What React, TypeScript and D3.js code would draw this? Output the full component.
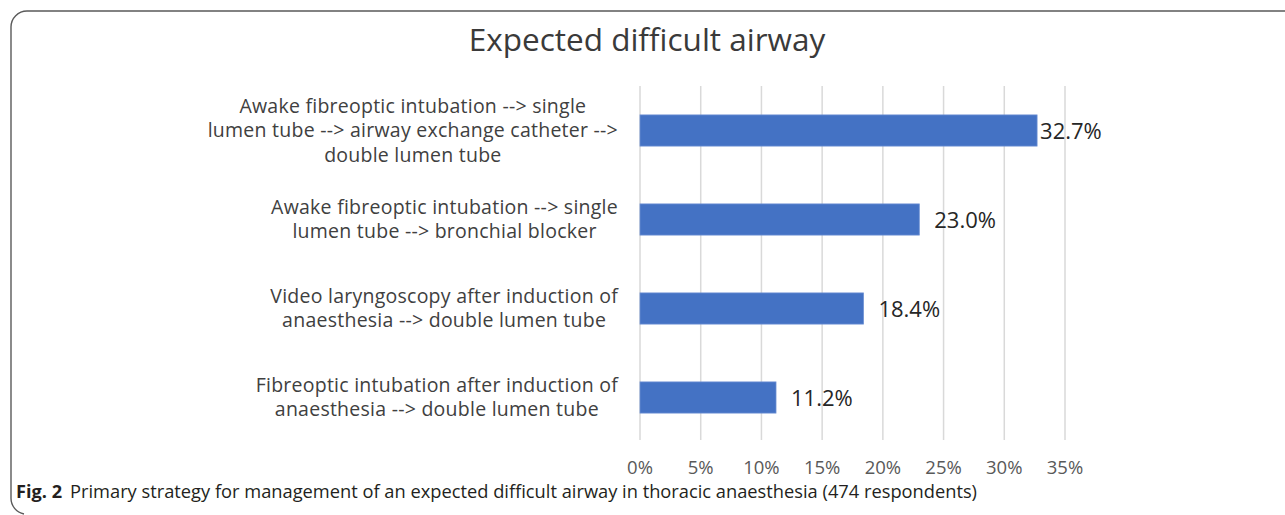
import React, { useEffect, useRef } from "react";
import * as d3 from "d3";

const categories: string[][] = [
  ["Awake fibreoptic intubation --> single", "lumen tube --> airway exchange catheter -->", "double lumen tube"],
  ["Awake fibreoptic intubation --> single", "lumen tube -->  bronchial blocker"],
  ["Video laryngoscopy after induction of", "anaesthesia --> double lumen tube"],
  ["Fibreoptic intubation after induction of", "anaesthesia --> double lumen tube"],
];
const values: number[] = [0.327, 0.23, 0.184, 0.112];
const valueLabels: string[] = ["32.7%", "23.0%", "18.4%", "11.2%"];
const ticks: number[] = [0, 0.05, 0.1, 0.15, 0.2, 0.25, 0.3, 0.35];
const title = "Expected difficult airway";
const captionBold = "Fig. 2";
const captionText = "Primary strategy for management of an expected difficult airway in thoracic anaesthesia (474 respondents)";

const W = 1285;
const H = 515;
const FONT = "'Open Sans', 'Noto Sans', sans-serif";

export default function App() {
  const ref = useRef<SVGSVGElement | null>(null);

  useEffect(() => {
    const svg = d3.select(ref.current);
    svg.selectAll("*").remove();

    // frame
    svg.append("path")
      .attr("d", `M ${W} 11 H 27 A 16 16 0 0 0 11 27 V 498 A 16 16 0 0 0 24 514`)
      .attr("fill", "none")
      .attr("stroke", "#5a5a5a")
      .attr("stroke-width", 1.4);

    const x = d3.scaleLinear().domain([0, 0.35]).range([640, 1065]);
    const y = d3.scaleBand<number>().domain(d3.range(categories.length)).range([86, 442]).paddingInner(0.65).paddingOuter(0.325);

    // title
    svg.append("text")
      .attr("x", 647).attr("y", 51)
      .attr("text-anchor", "middle")
      .attr("font-family", FONT)
      .attr("font-size", 31.5)
      .attr("fill", "#3a3a3a")
      .text(title);

    // gridlines
    svg.append("g").selectAll("line").data(ticks).join("line")
      .attr("x1", d => x(d)).attr("x2", d => x(d))
      .attr("y1", 86).attr("y2", 440)
      .attr("stroke", "#d9d9d9").attr("stroke-width", 1.5);

    // tick labels
    svg.append("g").selectAll("text").data(ticks).join("text")
      .attr("x", d => x(d)).attr("y", 474)
      .attr("text-anchor", "middle")
      .attr("font-family", FONT).attr("font-size", 18.5)
      .attr("fill", "#595959")
      .text(d => d3.format(".0%")(d));

    // bars
    svg.append("g").selectAll("rect").data(values).join("rect")
      .attr("x", x(0)).attr("y", (_, i) => y(i)!)
      .attr("width", d => x(d) - x(0)).attr("height", y.bandwidth())
      .attr("fill", "#4472C4").attr("stroke", "#6b8fd3").attr("stroke-width", 0.8);

    // value labels
    svg.append("g").selectAll("text").data(values).join("text")
      .attr("x", (d, i) => x(d) + (i === 0 ? 3 : 15))
      .attr("y", (_, i) => y(i)! + y.bandwidth() / 2 + 8)
      .attr("font-family", FONT).attr("font-size", 22)
      .attr("fill", "#262626")
      .text((_, i) => valueLabels[i]);

    // category labels
    const lineH = 24.5;
    const rightEdge = 618;
    categories.forEach((lines, i) => {
      const g = svg.append("g");
      const cy = y(i)! + y.bandwidth() / 2;
      const texts = g.selectAll("text").data(lines).join("text")
        .attr("y", (_, j) => cy + 6.5 + (j - (lines.length - 1) / 2) * lineH)
        .attr("font-family", FONT).attr("font-size", 19.5)
        .attr("letter-spacing", 0.25)
        .attr("fill", "#404040")
        .attr("text-anchor", "middle")
        .text(d => d);
      let maxW = 0;
      texts.each(function () {
        const w = (this as SVGTextElement).getComputedTextLength();
        if (w > maxW) maxW = w;
      });
      texts.attr("x", rightEdge - maxW / 2);
    });

    // caption
    svg.append("text")
      .attr("x", 16).attr("y", 498)
      .attr("font-family", "'Open Sans', sans-serif").attr("font-weight", "bold")
      .attr("font-size", 17.5)
      .attr("fill", "#231f20")
      .attr("textLength", 46).attr("lengthAdjust", "spacingAndGlyphs")
      .text(captionBold);
    svg.append("text")
      .attr("x", 70).attr("y", 498)
      .attr("font-family", "'Open Sans', sans-serif")
      .attr("font-size", 17.5)
      .attr("fill", "#231f20")
      .attr("textLength", 907).attr("lengthAdjust", "spacingAndGlyphs")
      .text(captionText);
  }, []);

  return (
    <svg ref={ref} width={W} height={H} style={{ position: "absolute", left: 0, top: 0, background: "#fff" }} />
  );
}
